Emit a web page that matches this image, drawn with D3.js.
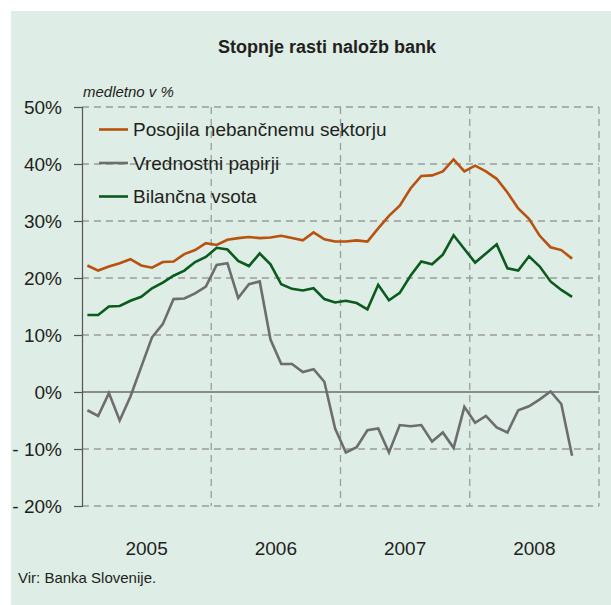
<!DOCTYPE html>
<html>
<head>
<meta charset="utf-8">
<script src="https://cdn.jsdelivr.net/npm/d3@7"></script>
<style>
  body { margin: 0; background: #fff; }
  svg { display: block; }
  text { font-family: "Liberation Sans Narrow", "Arial Narrow", "Liberation Sans", Arial, sans-serif; fill: #231f20; }
</style>
</head>
<body>
<svg id="chart" width="611" height="605"></svg>
<script>
// monthly, Jan 2005 - Oct 2008
var years = ['2005', '2006', '2007', '2008'];
var yTicks = [50, 40, 30, 20, 10, 0, -10, -20];

var posojila = [22.2, 21.3, 22.0, 22.6, 23.3, 22.2, 21.8, 22.8, 22.9, 24.2, 24.9, 26.1,
  25.8, 26.7, 27.0, 27.2, 27.0, 27.1, 27.4, 27.0, 26.6, 28.0, 26.8, 26.4,
  26.4, 26.6, 26.4, 28.7, 30.9, 32.7, 35.7, 37.9, 38.0, 38.7, 40.8, 38.7,
  39.7, 38.7, 37.4, 35.0, 32.2, 30.4, 27.4, 25.4, 24.9, 23.4];

var vrednostni = [-3.2, -4.2, -0.2, -5.0, -0.8, 4.4, 9.6, 11.9, 16.3, 16.4, 17.3, 18.5,
  22.3, 22.6, 16.5, 18.9, 19.4, 9.2, 4.9, 4.9, 3.5, 4.0, 1.8, -6.4,
  -10.6, -9.7, -6.7, -6.4, -10.6, -5.8, -6.0, -5.8, -8.7, -7.1, -9.8, -2.6,
  -5.4, -4.2, -6.2, -7.1, -3.2, -2.5, -1.3, 0.1, -2.1, -11.2];

var bilancna = [13.5, 13.5, 15.0, 15.1, 16.0, 16.7, 18.2, 19.2, 20.4, 21.3, 22.8, 23.7,
  25.3, 25.0, 23.0, 22.1, 24.3, 22.4, 18.9, 18.1, 17.8, 18.2, 16.3, 15.7,
  16.0, 15.6, 14.5, 18.8, 16.1, 17.4, 20.4, 22.9, 22.4, 24.1, 27.5, 25.1,
  22.7, 24.3, 25.9, 21.7, 21.3, 23.8, 22.0, 19.4, 17.9, 16.7];

var series = [
  {name: 'Posojila nebančnemu sektorju', values: posojila, color: '#b8520f'},
  {name: 'Vrednostni papirji', values: vrednostni, color: '#6d6d70'},
  {name: 'Bilančna vsota', values: bilancna, color: '#0b5a1e'}
];

var svg = d3.select('#chart');
var plotLeft = 82, plotRight = 599, plotTop = 107, plotBottom = 506;

svg.append('rect')
  .attr('x', 11).attr('y', 11)
  .attr('width', 600).attr('height', 594)
  .attr('fill', '#deede5');

// 48 month slots, 4 years
var x = d3.scaleLinear().domain([0, 48]).range([plotLeft, plotRight]);
var y = d3.scaleLinear().domain([-20, 50]).range([plotBottom, plotTop]);
var yearX = d3.scaleBand().domain(years).range([plotLeft, plotRight]);

// horizontal grid
svg.append('g')
  .selectAll('line')
  .data(yTicks.filter(function (d) { return d !== 0; }))
  .enter()
  .append('line')
  .attr('x1', plotLeft).attr('x2', plotRight)
  .attr('y1', function (d) { return y(d); })
  .attr('y2', function (d) { return y(d); })
  .attr('stroke', '#9a9c9b')
  .attr('stroke-width', 1.3)
  .attr('stroke-dasharray', '7,5');

// vertical year boundaries
svg.append('g')
  .selectAll('line')
  .data([1, 2, 3, 4])
  .enter()
  .append('line')
  .attr('x1', function (d) { return x(d * 12); })
  .attr('x2', function (d) { return x(d * 12); })
  .attr('y1', plotTop).attr('y2', plotBottom)
  .attr('stroke', '#9a9c9b')
  .attr('stroke-width', 1.3)
  .attr('stroke-dasharray', '7,5');

// zero line
svg.append('line')
  .attr('x1', plotLeft).attr('x2', plotRight)
  .attr('y1', y(0)).attr('y2', y(0))
  .attr('stroke', '#6b6b6b')
  .attr('stroke-width', 1.3);

// y axis
var yAxis = d3.axisLeft(y)
  .tickValues(yTicks)
  .tickSize(8)
  .tickPadding(12)
  .tickFormat(function (d) { return d < 0 ? '- ' + Math.abs(d) + '%' : d + '%'; });

var ya = svg.append('g')
  .attr('transform', 'translate(' + plotLeft + ',0)')
  .call(yAxis);
ya.select('.domain').attr('stroke', '#555').attr('stroke-width', 1.2);
ya.selectAll('.tick line').attr('stroke', '#555').attr('stroke-width', 1.2);
ya.selectAll('.tick text')
  .style('font-size', '19px')
  .attr('fill', '#231f20');

// year labels
svg.append('g')
  .selectAll('text')
  .data(years)
  .enter()
  .append('text')
  .attr('x', function (d) { return yearX(d) + yearX.bandwidth() / 2; })
  .attr('y', 555)
  .attr('text-anchor', 'middle')
  .style('font-size', '19px')
  .text(function (d) { return d; });

// lines
var line = d3.line()
  .x(function (d, i) { return x(i + 0.5); })
  .y(function (d) { return y(d); });

svg.append('g')
  .selectAll('path')
  .data(series)
  .enter()
  .append('path')
  .attr('d', function (d) { return line(d.values); })
  .attr('fill', 'none')
  .attr('stroke', function (d) { return d.color; })
  .attr('stroke-width', 2.6)
  .attr('stroke-linejoin', 'miter');

// legend
var legend = svg.append('g')
  .selectAll('g')
  .data(series)
  .enter()
  .append('g')
  .attr('transform', function (d, i) { return 'translate(99,' + (129.5 + i * 33.5) + ')'; });

legend.append('line')
  .attr('x1', 0).attr('x2', 29)
  .attr('stroke', function (d) { return d.color; })
  .attr('stroke-width', 2.6);

legend.append('text')
  .attr('x', 34).attr('y', 6.5)
  .style('font-size', '19px')
  .text(function (d) { return d.name; });

// title, unit, source
svg.append('text')
  .attr('x', 327).attr('y', 53)
  .attr('text-anchor', 'middle')
  .style('font-size', '18px')
  .style('font-weight', 'bold')
  .text('Stopnje rasti naložb bank');

svg.append('text')
  .attr('x', 83).attr('y', 97)
  .style('font-size', '15px')
  .style('font-style', 'italic')
  .text('medletno v %');

svg.append('text')
  .attr('x', 18).attr('y', 583)
  .style('font-size', '15px')
  .text('Vir: Banka Slovenije.');
</script>
</body>
</html>
